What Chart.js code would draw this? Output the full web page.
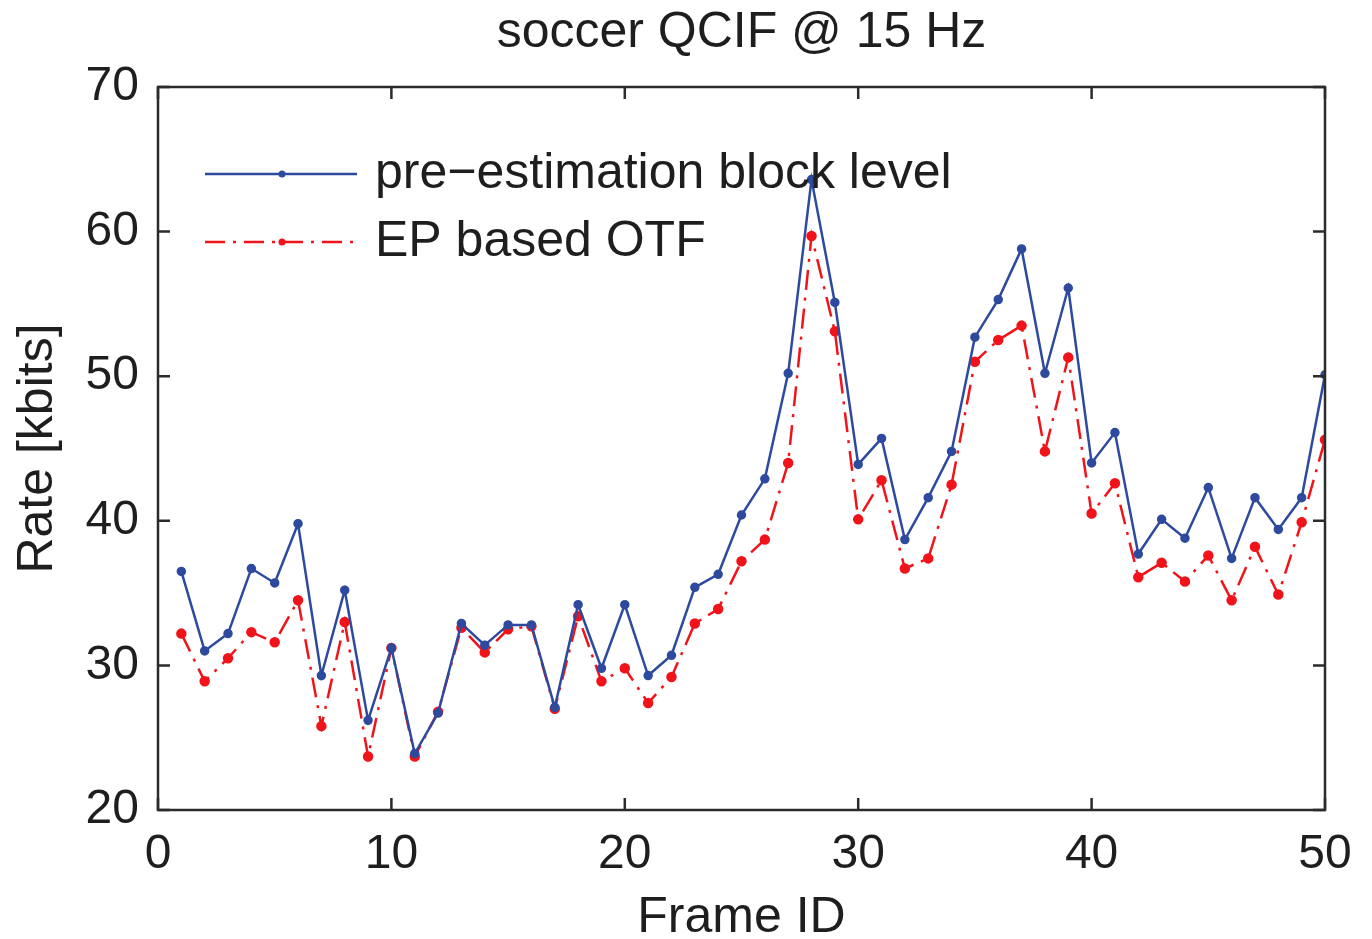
<!DOCTYPE html>
<html>
<head>
<meta charset="utf-8">
<script src="https://cdn.jsdelivr.net/npm/chart.js@4/dist/chart.umd.min.js"></script>
<style>
  html, body { margin: 0; padding: 0; background: #fff; }
  #wrap { width: 1372px; height: 939px; }
</style>
</head>
<body>
<div id="wrap"><canvas id="rateChart"></canvas></div>
<script>
// data
const frameIds = [1,2,3,4,5,6,7,8,9,10,11,12,13,14,15,16,17,18,19,20,21,22,23,24,25,
                  26,27,28,29,30,31,32,33,34,35,36,37,38,39,40,41,42,43,44,45,46,47,48,49,50];
const preEstimation = [36.5,31.0,32.2,36.7,35.7,39.8,29.3,35.2,26.2,31.2,
                       23.9,26.7,32.9,31.4,32.8,32.8,27.1,34.2,29.8,34.2,
                       29.3,30.7,35.4,36.3,40.4,42.9,50.2,63.6,55.1,43.9,
                       45.7,38.7,41.6,44.8,52.7,55.3,58.8,50.2,56.1,44.0,
                       46.1,37.7,40.1,38.8,42.3,37.4,41.6,39.4,41.6,50.1];
const epBasedOtf = [32.2,28.9,30.5,32.3,31.6,34.5,25.8,33.0,23.7,31.2,
                    23.7,26.8,32.6,30.9,32.5,32.7,27.0,33.4,28.9,29.8,
                    27.4,29.2,32.9,33.9,37.2,38.7,44.0,59.7,53.1,40.1,
                    42.8,36.7,37.4,42.5,51.0,52.5,53.5,44.8,51.3,40.5,
                    42.6,36.1,37.1,35.8,37.6,34.5,38.2,34.9,39.9,45.6];
const xTicks = [0,10,20,30,40,50];
const yTicks = [20,30,40,50,60,70];
const seriesNames = ['pre\u2212estimation block level', 'EP based OTF'];
const titleText = 'soccer QCIF @ 15 Hz';

const BLUE = '#2d4a9e';
const RED = '#f0141a';
const AXIS = '#2b2b2b';
const INK = '#1e1e1e';
const FONT = "'Liberation Sans', Arial, sans-serif";
const RED_DASH = [20, 8, 3, 8];

function toPoints(vals) {
  return frameIds.map((f, i) => ({ x: f, y: vals[i] }));
}

// MATLAB-style box, inward ticks, title over the axes and a plain legend
const matlabFrame = {
  id: 'matlabFrame',
  afterDatasetsDraw(chart) {
    const { ctx, chartArea: a, scales } = chart;
    ctx.save();
    ctx.strokeStyle = AXIS;
    ctx.lineWidth = 2.5;
    ctx.strokeRect(a.left, a.top, a.right - a.left, a.bottom - a.top);
    const tl = 12;
    ctx.beginPath();
    yTicks.forEach(v => {
      const y = scales.y.getPixelForValue(v);
      ctx.moveTo(a.left, y); ctx.lineTo(a.left + tl, y);
      ctx.moveTo(a.right, y); ctx.lineTo(a.right - tl, y);
    });
    xTicks.forEach(v => {
      const x = scales.x.getPixelForValue(v);
      ctx.moveTo(x, a.bottom); ctx.lineTo(x, a.bottom - tl);
      ctx.moveTo(x, a.top); ctx.lineTo(x, a.top + tl);
    });
    ctx.stroke();

    // title, centred on the axes box
    ctx.fillStyle = INK;
    ctx.font = '50px ' + FONT;
    ctx.textAlign = 'center';
    ctx.textBaseline = 'alphabetic';
    ctx.fillText(titleText, (a.left + a.right) / 2, 47);

    // legend
    const lx0 = a.left + 47, lx1 = a.left + 199, mx = a.left + 124;
    const rows = [
      { y: a.top + 87, color: BLUE, dash: [], name: seriesNames[0] },
      { y: a.top + 155, color: RED, dash: RED_DASH, name: seriesNames[1] }
    ];
    rows.forEach(r => {
      ctx.strokeStyle = r.color;
      ctx.lineWidth = 2.5;
      ctx.setLineDash(r.dash);
      ctx.beginPath();
      ctx.moveTo(lx0, r.y); ctx.lineTo(lx1, r.y);
      ctx.stroke();
      ctx.setLineDash([]);
      ctx.fillStyle = r.color;
      ctx.beginPath();
      ctx.arc(mx, r.y, 3.5, 0, Math.PI * 2);
      ctx.fill();
      ctx.fillStyle = INK;
      ctx.font = '50px ' + FONT;
      ctx.textBaseline = 'middle';
      ctx.textAlign = 'left';
      ctx.fillText(r.name, a.left + 217, r.y);
    });
    ctx.restore();
  }
};

const ctx = document.getElementById('rateChart').getContext('2d');
const chart = new Chart(ctx, {
  type: 'line',
  data: {
    datasets: [
      { label: seriesNames[0], data: toPoints(preEstimation), borderColor: BLUE, backgroundColor: BLUE,
        borderWidth: 2.5, pointRadius: 3.5, pointHoverRadius: 3.5, tension: 0 },
      { label: seriesNames[1], data: toPoints(epBasedOtf), borderColor: RED, backgroundColor: RED,
        borderWidth: 2.5, borderDash: RED_DASH, pointRadius: 4, pointHoverRadius: 4, tension: 0 }
    ]
  },
  options: {
    responsive: true,
    maintainAspectRatio: false,
    animation: false,
    layout: { padding: { left: 0, right: 47, top: 87, bottom: 0 } },
    plugins: {
      legend: { display: false },
      tooltip: { enabled: false },
      title: { display: false }
    },
    scales: {
      x: {
        type: 'linear', min: 0, max: 50,
        grid: { display: false, drawTicks: false },
        border: { display: false },
        ticks: { stepSize: 10, color: INK, padding: 16, font: { family: FONT, size: 48 } },
        title: { display: true, text: 'Frame ID', color: INK,
                 font: { family: FONT, size: 50, lineHeight: 0.84 }, padding: { top: 0, bottom: 0 } },
        afterFit(s) { s.height = 129; }
      },
      y: {
        min: 20, max: 70,
        grid: { display: false, drawTicks: false },
        border: { display: false },
        ticks: { stepSize: 10, color: INK, padding: 19, font: { family: FONT, size: 48 } },
        title: { display: true, text: 'Rate [kbits]', color: INK,
                 font: { family: FONT, size: 50, lineHeight: 1 }, padding: { top: 13, bottom: 0 } },
        afterFit(s) { s.width = 158; }
      }
    }
  },
  plugins: [matlabFrame]
});
</script>
</body>
</html>
